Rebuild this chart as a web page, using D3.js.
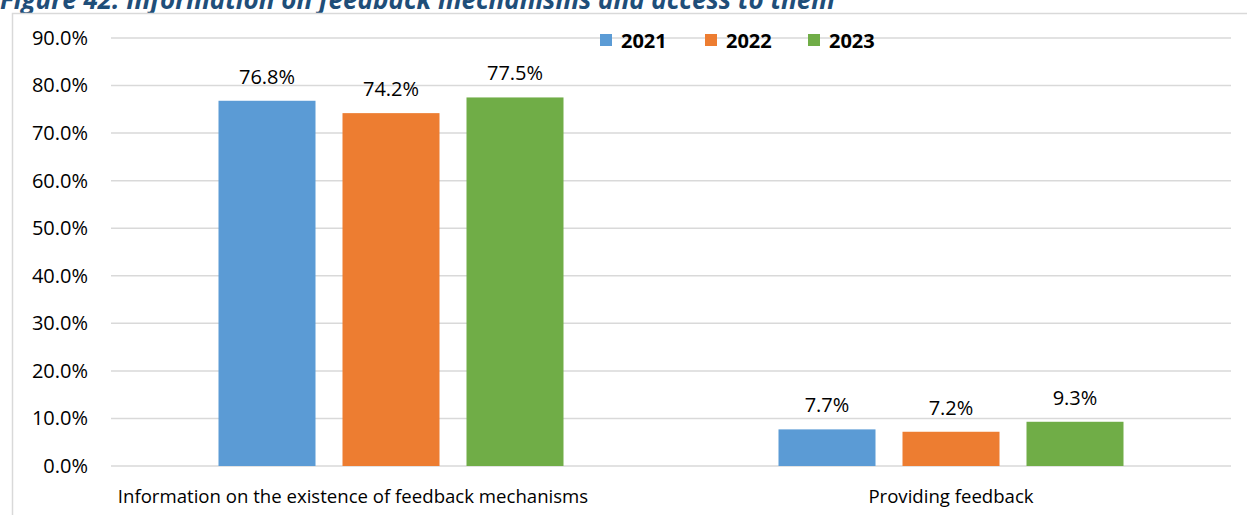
<!DOCTYPE html>
<html>
<head>
<meta charset="utf-8">
<script src="https://cdn.jsdelivr.net/npm/d3@7"></script>
<style>
  html, body { margin: 0; padding: 0; background: #fff; }
  svg { display: block; }
</style>
</head>
<body>
<svg id="chart" width="1247" height="515"></svg>
<script>
// Survey results, share of respondents by year
const categories = [
  "Information on the existence of feedback mechanisms",
  "Providing feedback"
];
const years = ["2021", "2022", "2023"];
const values2021 = [76.8, 7.7];
const values2022 = [74.2, 7.2];
const values2023 = [77.5, 9.3];
const yTicks = [0, 10, 20, 30, 40, 50, 60, 70, 80, 90];
const colors = ["#5B9BD5", "#ED7D31", "#70AD47"];

const series = [values2021, values2022, values2023];
const rows = categories.map((c, i) => ({
  category: c,
  values: years.map((y, j) => ({ year: y, value: series[j][i], color: colors[j] }))
}));

const svg = d3.select("#chart");
const font = "'Open Sans', 'DejaVu Sans', sans-serif";

// Figure caption, partly above the visible area
svg.append("text")
  .attr("x", 0).attr("y", 9)
  .attr("font-family", font)
  .attr("font-size", 26)
  .attr("font-weight", 700)
  .attr("font-style", "italic")
  .attr("fill", "#1F4E79")
  .text("Figure 42: Information on feedback mechanisms and access to them");

// Chart frame
svg.append("rect")
  .attr("x", 12.5).attr("y", 13.5)
  .attr("width", 1260).attr("height", 520)
  .attr("fill", "#fff")
  .attr("stroke", "#D9D9D9")
  .attr("stroke-width", 1.5);

const plot = { left: 111, right: 1231, top: 38, bottom: 466 };

const x = d3.scaleBand()
  .domain(categories)
  .range([plot.left, plot.right]);

const barsSpan = 345 / 560;
const x1 = d3.scaleBand()
  .domain(years)
  .range([0, x.bandwidth() * barsSpan])
  .paddingInner(27 / 124)
  .paddingOuter(0);

const y = d3.scaleLinear()
  .domain([0, 90])
  .range([plot.bottom, plot.top]);

// Horizontal gridlines
svg.append("g")
  .selectAll("line")
  .data(yTicks)
  .join("line")
  .attr("x1", plot.left).attr("x2", plot.right)
  .attr("y1", d => y(d)).attr("y2", d => y(d))
  .attr("stroke", "#D9D9D9")
  .attr("stroke-width", 1.5);

// Value axis labels
const yAxis = d3.axisLeft(y)
  .tickValues(yTicks)
  .tickFormat(d => d.toFixed(1) + "%")
  .tickSize(0)
  .tickPadding(0);
const yg = svg.append("g")
  .attr("transform", `translate(88,0)`)
  .call(yAxis);
yg.select(".domain").remove();
yg.selectAll("text")
  .attr("font-family", font)
  .attr("font-size", 20)
  .attr("fill", "#000");

// Bars grouped by category
const groups = svg.append("g")
  .selectAll("g")
  .data(rows)
  .join("g")
  .attr("transform", d => `translate(${x(d.category) + x.bandwidth() * (1 - barsSpan) / 2},0)`);

groups.selectAll("rect")
  .data(d => d.values)
  .join("rect")
  .attr("x", d => x1(d.year))
  .attr("y", d => y(d.value))
  .attr("width", x1.bandwidth())
  .attr("height", d => y(0) - y(d.value))
  .attr("fill", d => d.color);

groups.selectAll("text")
  .data(d => d.values)
  .join("text")
  .attr("x", d => x1(d.year) + x1.bandwidth() / 2)
  .attr("y", d => y(d.value) - 17)
  .attr("text-anchor", "middle")
  .attr("font-family", font)
  .attr("font-size", 20)
  .attr("fill", "#000")
  .text(d => d.value.toFixed(1) + "%");

// Category axis labels; the long first label sits a little left of its band centre
const labelShift = [-38, 0];
const xAxis = d3.axisBottom(x).tickSize(0).tickPadding(0);
const xg = svg.append("g")
  .attr("transform", `translate(0,${plot.bottom})`)
  .call(xAxis);
xg.select(".domain").remove();
xg.selectAll("text")
  .attr("font-family", font)
  .attr("font-size", 18.6)
  .attr("fill", "#000")
  .attr("dy", null)
  .attr("y", 37)
  .attr("x", (d, i) => labelShift[i]);

// Legend
const legendX = [600, 705, 808];
const legend = svg.append("g")
  .selectAll("g")
  .data(years)
  .join("g")
  .attr("transform", (d, i) => `translate(${legendX[i]},34)`);
legend.append("rect")
  .attr("width", 12).attr("height", 12)
  .attr("fill", (d, i) => colors[i]);
legend.append("text")
  .attr("x", 21).attr("y", 13.5)
  .attr("font-family", font)
  .attr("font-size", 20)
  .attr("font-weight", 700)
  .attr("fill", "#000")
  .text(d => d);
</script>
</body>
</html>
